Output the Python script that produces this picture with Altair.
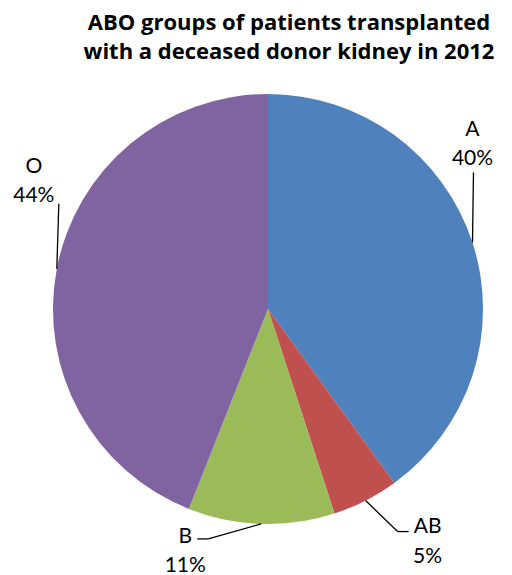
import altair as alt
import pandas as pd

# ---- data ----
groups = ["A", "AB", "B", "O"]
percents = [40, 5, 11, 44]
colors = ["#4F81BD", "#C0504D", "#9BBB59", "#8064A2"]
title_lines = ["ABO groups of patients transplanted",
               "with a deceased donor kidney in 2012"]

# ---- label layout (pixel offsets from each slice's outer-edge midpoint) ----
elbow_dx = [1, 32, -53, 2]
elbow_dy = [-70, 31, 15, -65]
end_dx = [1, 43, -64, 2]
end_dy = [-70, 31, 15, -65]
text_dx = [0, 62, -76, -23]
name_dy = [-113, 26, 13, -102]
pct_dy = [-84, 56, 42, -73]

W, H = 496, 567
CX, CY, R = 260, 301, 215
FONT = "Lato"

df = pd.DataFrame({
    "group": groups, "pct": percents, "order": list(range(len(groups))),
    "elbow_dx": elbow_dx, "elbow_dy": elbow_dy,
    "end_dx": end_dx, "end_dy": end_dy,
    "text_dx": text_dx, "name_dy": name_dy, "pct_dy": pct_dy,
})

base = alt.Chart(df)

pie = base.mark_arc(radius=R, strokeWidth=0).encode(
    theta=alt.Theta("pct:Q", stack=True),
    order=alt.Order("order:Q"),
    color=alt.Color("group:N", scale=alt.Scale(domain=groups, range=colors), legend=None),
    x=alt.value(CX), y=alt.value(CY),
)

geo = base.transform_joinaggregate(
    total="sum(pct)"
).transform_window(
    cum="sum(pct)", sort=[alt.SortField("order")], frame=[None, 0]
).transform_calculate(
    ang="(datum.cum - datum.pct/2) / datum.total * 2 * PI",
).transform_calculate(
    ex=f"{CX} + {R} * sin(datum.ang)",
    ey=f"{CY} - {R} * cos(datum.ang)",
).transform_calculate(
    bx="datum.ex + datum.elbow_dx", by="datum.ey + datum.elbow_dy",
    fx="datum.ex + datum.end_dx", fy="datum.ey + datum.end_dy",
    tx="datum.ex + datum.text_dx",
    ny="datum.ey + datum.name_dy", py="datum.ey + datum.pct_dy",
    plabel="datum.pct + '%'",
)

seg1 = geo.mark_rule(color="black", strokeWidth=1.3).encode(
    x=alt.X("ex:Q", scale=None, axis=None), y=alt.Y("ey:Q", scale=None, axis=None),
    x2="bx:Q", y2="by:Q",
)
seg2 = geo.mark_rule(color="black", strokeWidth=1.3).encode(
    x=alt.X("bx:Q", scale=None, axis=None), y=alt.Y("by:Q", scale=None, axis=None),
    x2="fx:Q", y2="fy:Q",
)
names = geo.mark_text(font=FONT, fontSize=21, color="black", baseline="middle", align="center").encode(
    x=alt.X("tx:Q", scale=None, axis=None), y=alt.Y("ny:Q", scale=None, axis=None),
    text="group:N",
)
pcts = geo.mark_text(font=FONT, fontSize=21, color="black", baseline="middle", align="center").encode(
    x=alt.X("tx:Q", scale=None, axis=None), y=alt.Y("py:Q", scale=None, axis=None),
    text="plabel:N",
)

title = alt.Chart(pd.DataFrame({"k": [0]})).mark_text(
    text=title_lines, font="Open Sans", fontSize=22, fontWeight="bold", color="black",
    align="center", baseline="alphabetic", lineHeight=29,
).encode(x=alt.value(281), y=alt.value(22))

chart = alt.layer(pie, seg1, seg2, names, pcts, title).properties(
    width=W, height=H, autosize=alt.AutoSizeParams(type="none"), padding=0,
).configure_view(stroke=None)

chart.save("out.html", embed_options={"renderer": "svg", "actions": False})
